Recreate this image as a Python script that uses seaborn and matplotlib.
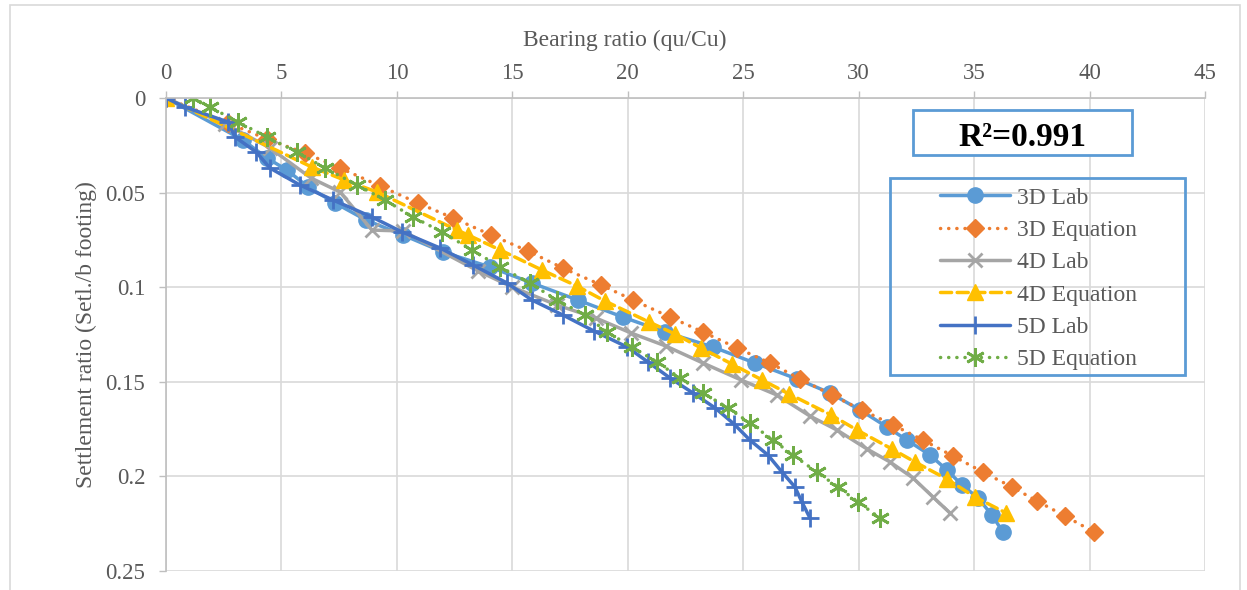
import matplotlib
matplotlib.use("Agg")
import matplotlib.pyplot as plt
import seaborn as sns
import pandas as pd
from matplotlib.patches import Rectangle

# ---------------- data ----------------
x_3d_lab = [0, 3.33, 4.37, 5.24, 6.15, 7.32, 8.66, 10.26, 12.0, 14.03, 15.85, 17.84, 19.79,
            21.61, 23.69, 25.51, 27.33, 28.76, 30.06, 31.23, 32.09, 33.09, 33.82, 34.47,
            35.17, 35.77, 36.25]
y_3d_lab = [0, 0.0222, 0.0317, 0.0381, 0.0470, 0.0555, 0.0645, 0.0724, 0.0814, 0.0893,
            0.0978, 0.1068, 0.1158, 0.1237, 0.1316, 0.1401, 0.1485, 0.1559, 0.1649, 0.1739,
            0.1808, 0.1887, 0.1966, 0.2045, 0.2114, 0.2204, 0.2294]

x_3d_eq = [0, 2.69, 4.37, 6.02, 7.54, 9.27, 10.91, 12.43, 14.08, 15.68, 17.19, 18.84, 20.23,
           21.83, 23.26, 24.73, 26.16, 27.46, 28.84, 30.14, 31.49, 32.78, 34.08, 35.38,
           36.64, 37.72, 38.93, 40.19]
y_3d_eq = [0, 0.0132, 0.0217, 0.0291, 0.0370, 0.0465, 0.0555, 0.0634, 0.0724, 0.0809, 0.0899,
           0.0988, 0.1068, 0.1158, 0.1237, 0.1321, 0.1401, 0.1485, 0.1570, 0.1649, 0.1728,
           0.1808, 0.1892, 0.1977, 0.2056, 0.2130, 0.2209, 0.2294]

x_4d_lab = [0, 2.56, 4.50, 6.28, 7.54, 8.92, 10.26, 13.51, 14.99, 16.93, 18.62, 20.14, 21.65,
            23.26, 24.90, 26.46, 27.89, 29.06, 30.36, 31.36, 32.35, 33.22, 33.95]
y_4d_lab = [0, 0.0137, 0.0264, 0.0423, 0.0497, 0.0698, 0.0703, 0.0914, 0.0999, 0.1094, 0.1163,
            0.1242, 0.1311, 0.1401, 0.1490, 0.1570, 0.1681, 0.1755, 0.1855, 0.1924, 0.2008,
            0.2109, 0.2193]

x_4d_eq = [0, 6.32, 7.71, 9.14, 12.60, 13.08, 14.47, 16.28, 17.80, 19.01, 20.92, 22.04, 23.17,
           24.51, 25.81, 26.98, 28.80, 29.93, 31.44, 32.44, 33.82, 35.04, 36.38]
y_4d_eq = [0, 0.0365, 0.0433, 0.0497, 0.0698, 0.0724, 0.0803, 0.0909, 0.0994, 0.1073, 0.1184,
           0.1247, 0.1321, 0.1406, 0.1490, 0.1564, 0.1675, 0.1755, 0.1855, 0.1924, 0.2014,
           0.2109, 0.2193]

x_5d_lab = [0, 0.82, 2.69, 2.99, 3.90, 4.50, 5.80, 7.23, 8.92, 10.22, 11.87, 13.30, 14.77,
            15.85, 17.19, 18.54, 19.97, 20.87, 21.83, 22.82, 23.78, 24.60, 25.29, 26.07,
            26.68, 27.24, 27.54, 27.89]
y_5d_lab = [0, 0.0048, 0.0127, 0.0206, 0.0285, 0.0370, 0.0460, 0.0539, 0.0629, 0.0708, 0.0793,
            0.0883, 0.0978, 0.1068, 0.1147, 0.1232, 0.1316, 0.1395, 0.1480, 0.1559, 0.1638,
            0.1723, 0.1808, 0.1887, 0.1977, 0.2056, 0.2135, 0.2220]

x_5d_eq = [1.17, 1.91, 3.12, 4.37, 5.67, 6.89, 8.27, 9.48, 10.70, 11.95, 13.25, 14.47, 15.76,
           16.93, 18.15, 19.10, 20.18, 21.26, 22.26, 23.26, 24.34, 25.29, 26.29, 27.15,
           28.19, 29.10, 29.97, 30.92]
y_5d_eq = [0, 0.0048, 0.0127, 0.0206, 0.0285, 0.0370, 0.0460, 0.0539, 0.0629, 0.0708, 0.0803,
           0.0893, 0.0978, 0.1068, 0.1147, 0.1237, 0.1316, 0.1395, 0.1480, 0.1559, 0.1638,
           0.1718, 0.1808, 0.1887, 0.1977, 0.2056, 0.2135, 0.2220]

series_names = ["3D Lab", "3D Equation", "4D Lab", "4D Equation", "5D Lab", "5D Equation"]
x_ticks = [0, 5, 10, 15, 20, 25, 30, 35, 40, 45]
y_ticks = [0, 0.05, 0.1, 0.15, 0.2, 0.25]
y_tick_labels = ["0", "0.05", "0.1", "0.15", "0.2", "0.25"]
r2_text = "R\u00b2=0.991"
x_title = "Bearing ratio (qu/Cu)"
y_title = "Settlement ratio (Setl./b footing)"

# ---------------- styling ----------------
sns.set_theme(style="white")
plt.rcParams["font.family"] = ["Liberation Serif", "DejaVu Serif"]
TXT = "#595959"

W, H = 1247, 590
fig = plt.figure(figsize=(W / 100, H / 100), dpi=100)
ax = fig.add_axes([166 / W, 1 - 571 / H, (1205 - 166) / W, (571 - 98) / H])

dot = (0, (0.05, 2.3))
dash = (0, (3.2, 1.6))
styles = [
    dict(color="#5B9BD5", marker="o", markersize=11, linestyle="-", mew=1),
    dict(color="#ED7D31", marker="D", markersize=9.5, linestyle=dot, mew=1),
    dict(color="#A5A5A5", marker="x", markersize=10.5, linestyle="-", mew=2),
    dict(color="#FFC000", marker="^", markersize=12, linestyle=dash, mew=1),
    dict(color="#4472C4", marker="+", markersize=12.5, linestyle="-", mew=2),
    dict(color="#70AD47", marker=(6, 2, 0), markersize=13.5, linestyle=dot, mew=2),
]
xs = [x_3d_lab, x_3d_eq, x_4d_lab, x_4d_eq, x_5d_lab, x_5d_eq]
ys = [y_3d_lab, y_3d_eq, y_4d_lab, y_4d_eq, y_5d_lab, y_5d_eq]

for name, xv, yv, st in zip(series_names, xs, ys, styles):
    df = pd.DataFrame({"x": xv, "y": yv})
    sns.lineplot(data=df, x="x", y="y", ax=ax, sort=False, estimator=None,
                 color=st["color"], marker=st["marker"], markersize=st["markersize"],
                 markeredgecolor=st["color"], markerfacecolor=st["color"],
                 markeredgewidth=st["mew"], linewidth=2.5, linestyle=st["linestyle"],
                 dash_capstyle="round", label=name)

ax.set_xlim(0, 45)
ax.set_ylim(0.25, 0)
ax.xaxis.tick_top()
ax.xaxis.set_label_position("top")
ax.set_xticks(x_ticks)
ax.set_xticklabels([str(t) for t in x_ticks])
ax.set_yticks(y_ticks)
ax.set_yticklabels(y_tick_labels)
ax.grid(True, color="#D9D9D9", linewidth=1.2)
ax.set_axisbelow(True)
for side in ["right", "bottom"]:
    ax.spines[side].set_visible(False)
for side in ["top", "left"]:
    ax.spines[side].set_color("#BFBFBF")
    ax.spines[side].set_linewidth(1.2)
ax.tick_params(axis="x", top=True, bottom=False, length=5, width=1, color="#BFBFBF",
               labelsize=16.5, labelcolor=TXT, pad=5)
ax.tick_params(axis="y", left=True, length=5, width=1, color="#BFBFBF",
               labelsize=16.5, labelcolor=TXT, pad=10)
ax.set_xlabel(x_title, fontsize=17, color=TXT, va="center")
ax.xaxis.set_label_coords((624.5 - 166) / (1205 - 166), 1 + (98 - 40) / (571 - 98))
ax.set_ylabel(y_title, fontsize=17, color=TXT, labelpad=6)

# legend (frameless) + its own box
handles, labels = ax.get_legend_handles_labels()
leg = ax.legend(handles, labels, loc="upper left", bbox_to_anchor=(940 / W, 1 - 187 / H),
                bbox_transform=fig.transFigure, frameon=False, borderpad=0, borderaxespad=0,
                fontsize=17, handlelength=2.95, handletextpad=0.3, labelspacing=0.46)
for t in leg.get_texts():
    t.set_color(TXT)
fig.add_artist(Rectangle((890 / W, 1 - 375 / H), (1185 - 890) / W, (375 - 178) / H,
                         transform=fig.transFigure, fill=True, facecolor="none",
                         edgecolor="#5B9BD5", linewidth=2, zorder=5))

# R^2 box
fig.add_artist(Rectangle((913 / W, 1 - 155 / H), (1132 - 913) / W, (155 - 110) / H,
                         transform=fig.transFigure, facecolor="white",
                         edgecolor="#5B9BD5", linewidth=2, zorder=5))
fig.text(1022 / W, 1 - 137 / H, r2_text, ha="center", va="center", fontsize=24,
         fontweight="bold", color="black", zorder=6)

# chart-area frame
fig.add_artist(Rectangle((10 / W, -0.05), (1240 - 10) / W, 1.05 - 5 / H,
                         transform=fig.transFigure, fill=False, edgecolor="#D9D9D9",
                         linewidth=1.2, zorder=0))

fig.savefig("out.png", dpi=100)
